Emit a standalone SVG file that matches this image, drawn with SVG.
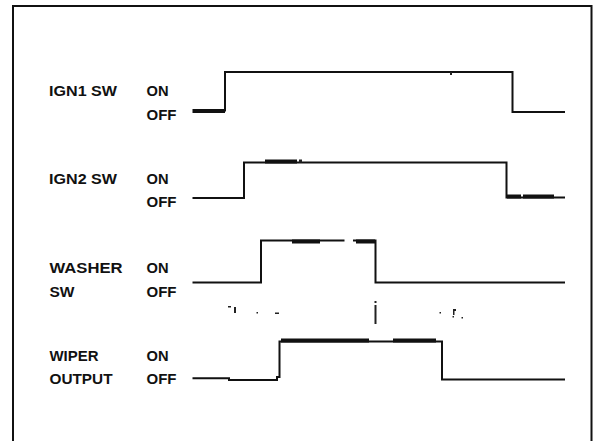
<svg xmlns="http://www.w3.org/2000/svg" width="596" height="441" viewBox="0 0 596 441">
<style>
.lbl{font-family:"Liberation Sans",Arial,sans-serif;font-weight:bold;font-size:14.5px;fill:#111}
.w{fill:none;stroke:#111;stroke-width:2;stroke-linejoin:miter;stroke-linecap:butt}
.t{fill:none;stroke:#111;stroke-width:4}
.frame{fill:none;stroke:#111;stroke-width:2}
.n{fill:#222}
</style>
<rect width="596" height="441" fill="#fff"/>
<path class="frame" d="M13,442 V6 H591.5 V442"/>
<g id="labels">
<text class="lbl" x="49" y="96" textLength="68" lengthAdjust="spacingAndGlyphs">IGN1 SW</text>
<text class="lbl" x="146.5" y="96" textLength="22" lengthAdjust="spacingAndGlyphs">ON</text>
<text class="lbl" x="146.5" y="120" textLength="30" lengthAdjust="spacingAndGlyphs">OFF</text>
<text class="lbl" x="49" y="183.5" textLength="68" lengthAdjust="spacingAndGlyphs">IGN2 SW</text>
<text class="lbl" x="146.5" y="183.5" textLength="22" lengthAdjust="spacingAndGlyphs">ON</text>
<text class="lbl" x="146.5" y="206.5" textLength="30" lengthAdjust="spacingAndGlyphs">OFF</text>
<text class="lbl" x="49.5" y="273" textLength="73" lengthAdjust="spacingAndGlyphs">WASHER</text>
<text class="lbl" x="146.5" y="273" textLength="22" lengthAdjust="spacingAndGlyphs">ON</text>
<text class="lbl" x="49.5" y="296.5" textLength="25" lengthAdjust="spacingAndGlyphs">SW</text>
<text class="lbl" x="146.5" y="296.5" textLength="30" lengthAdjust="spacingAndGlyphs">OFF</text>
<text class="lbl" x="49.5" y="360.5" textLength="49" lengthAdjust="spacingAndGlyphs">WIPER</text>
<text class="lbl" x="146.5" y="360.5" textLength="22" lengthAdjust="spacingAndGlyphs">ON</text>
<text class="lbl" x="49.5" y="384" textLength="63" lengthAdjust="spacingAndGlyphs">OUTPUT</text>
<text class="lbl" x="146.5" y="384" textLength="30" lengthAdjust="spacingAndGlyphs">OFF</text>
</g>
<g id="connectors">
<g id="ign1">
<path class="t" d="M192.5,111 H225"/>
<path class="w" d="M225,111.5 V72 H512.5 V112 H565"/>
<rect class="n" x="450" y="72" width="2" height="3"/>
</g>
<g id="ign2">
<path class="w" d="M192.5,198 H244 V162.5 H506.5 V197.5 H565"/>
<path class="t" d="M265,161.5 H297"/>
<rect class="n" x="299" y="159.5" width="3" height="3"/>
<path class="t" d="M507,196.5 H521 M523,196.5 H554"/>
</g>
<g id="washer">
<path class="w" d="M192.5,282.5 H261 V240.5 H320 M320,240.5 H344.5 M353,240.5 H375.5 V282.5 H565"/>
<path class="t" d="M292,241.5 H320 M356,241.5 H375"/>
</g>
<g id="wiper">
<path class="w" d="M192.5,378.3 H229 V380 H277 V377 H279.5 V341.5 H442 V379.5 H565"/>
<path class="t" d="M281,340.5 H369 M393,340.5 H436"/>
</g>
</g>
<g id="specks">
<rect class="n" x="228" y="306" width="3" height="1.5"/>
<rect class="n" x="234" y="307" width="2" height="6"/>
<rect class="n" x="256.5" y="312" width="1.5" height="1.5"/>
<rect class="n" x="275" y="312.5" width="4" height="1.5"/>
<rect class="n" x="374.5" y="301" width="2" height="2"/>
<rect class="n" x="374.5" y="305" width="2" height="19"/>
<rect class="n" x="439.5" y="312" width="1.5" height="1.5"/>
<rect class="n" x="453" y="309" width="3" height="2"/>
<rect class="n" x="453" y="311" width="1.5" height="4"/>
<rect class="n" x="452.5" y="316" width="1.5" height="1.5"/>
<rect class="n" x="461.5" y="317" width="1.5" height="1.5"/>
</g>
</svg>
